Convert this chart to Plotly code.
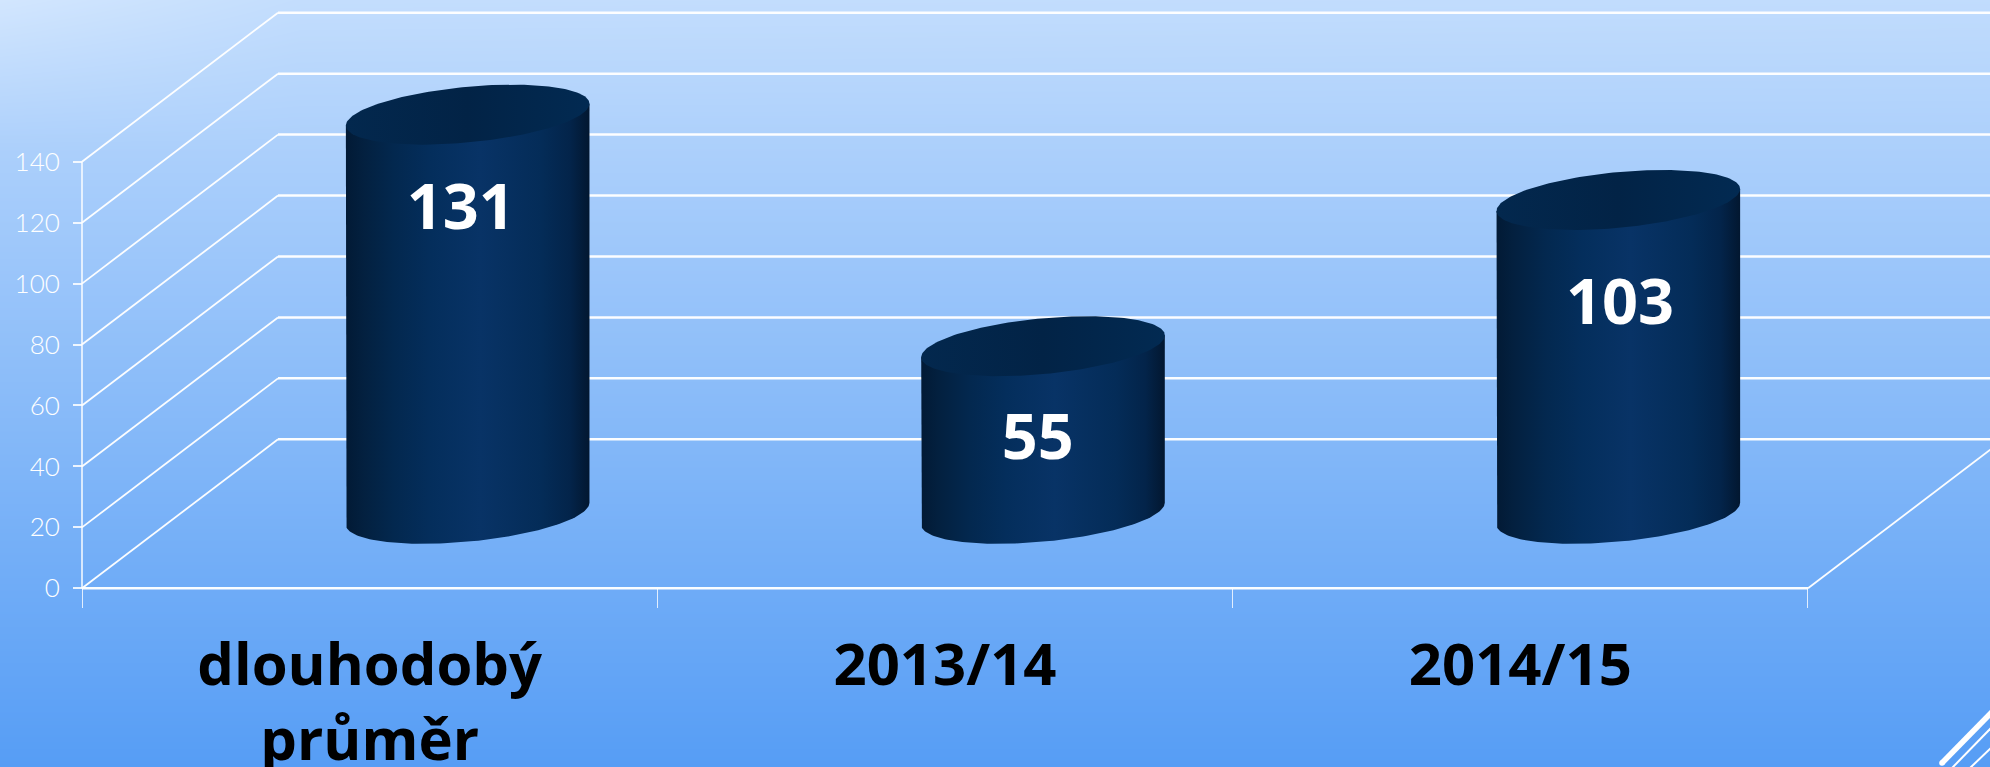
import numpy as np
import plotly.graph_objects as go

# ---- data ----
categories = ["dlouhodobý<br>průměr", "2013/14", "2014/15"]
values = [131, 55, 103]
y_ticks = [0, 20, 40, 60, 80, 100, 120, 140]
label_drop = [32.5, 32, 35.5]
label_shift = [-0.012, -0.009, 0.003]

# ---- page and axis scales ----
W, H = 1990, 767
PX_PER_CAT, PX_PER_UNIT = 575.33, 3.047
X0_PX, Y0_PX = 82, 588.3
x_range = [-X0_PX / PX_PER_CAT, (W - X0_PX) / PX_PER_CAT]
y_range = [-(H - Y0_PX) / PX_PER_UNIT, Y0_PX / PX_PER_UNIT]

# 3-D look: depth offset of the back wall, in axis units
DX, DY = 196 / PX_PER_CAT, 149 / PX_PER_UNIT
# ellipse of the cylinder in axis units
EA, EB, EC = 121.8 / PX_PER_CAT, 9.16, 3.6

GRID = "rgba(255,255,255,0.97)"
SIDE = [[0, "#021a35"], [0.07, "#03203f"], [0.2, "#03284f"], [0.35, "#042e5c"],
        [0.55, "#083366"], [0.8, "#042c58"], [0.92, "#03244a"], [1, "#021730"]]
CAP = [[0, "#03284e"], [0.5, "#022346"], [1, "#022a52"]]

fig = go.Figure()

# background gradient: vertical ramp with a lighter top-left corner
bg_x = [x_range[0], x_range[0] + 300 / PX_PER_CAT, x_range[1]]
bg_y = [y_range[0], y_range[1] - 150 / PX_PER_UNIT, y_range[1]]
bg_z = [[0.0, 0.0, 0.0], [0.69, 0.69, 0.69], [1.0, 0.88, 0.86]]
fig.add_trace(go.Heatmap(
    x=bg_x, y=bg_y, z=bg_z, zmin=0, zmax=1,
    zsmooth="best", showscale=False, hoverinfo="skip",
    colorscale=[[0, "#569df5"], [1, "#d2e6fe"]],
))


def line(x, y, width=2, color=GRID):
    fig.add_trace(go.Scatter(x=x, y=y, mode="lines", hoverinfo="skip",
                             line=dict(color=color, width=width, shape="linear")))


# walls
for v in y_ticks:
    line([0, DX], [v, v + DY], width=1.8)
    line([DX, 3 + DX], [v + DY, v + DY], width=2.5)
line([0, 0], [0, max(y_ticks)], width=1.7, color="rgba(255,255,255,0.85)")
line([0, 3], [0, 0], width=2.6)
line([3, 3 + DX], [0, DY], width=1.8)

# cylinders
t_low = np.linspace(np.pi, 2 * np.pi, 90)
t_all = np.linspace(0, 2 * np.pi, 180)
for i, v in enumerate(values):
    cx, cy = i + 0.5 + DX / 2, DY / 2
    xb = cx + EA * np.cos(t_low)
    yb = cy + EB * np.sin(t_low) + EC * np.cos(t_low)
    fig.add_trace(go.Scatter(
        x=np.r_[cx - EA, xb, cx + EA, cx - EA],
        y=np.r_[cy + v - EC, yb, cy + v + EC, cy + v - EC],
        mode="lines", line=dict(width=0), fill="toself",
        fillgradient=dict(type="horizontal", colorscale=SIDE), hoverinfo="skip"))
    fig.add_trace(go.Scatter(
        x=cx + EA * np.cos(t_all),
        y=cy + v + EB * np.sin(t_all) + EC * np.cos(t_all),
        mode="lines", line=dict(width=0), fill="toself",
        fillgradient=dict(type="horizontal", colorscale=CAP), hoverinfo="skip"))

# data labels
fig.add_trace(go.Scatter(
    x=[i + 0.5 + DX / 2 + s for i, s in enumerate(label_shift)],
    y=[v + DY / 2 - d for v, d in zip(values, label_drop)],
    text=[str(v) for v in values], mode="text", textposition="middle center",
    textfont=dict(family="Open Sans", size=63, color="white", weight="bold"),
    hoverinfo="skip"))


# corner decoration (page coordinates)
def px_line(x0, y0, x1, y1, w):
    return dict(type="line", xref="paper", yref="paper",
                x0=x0 / W, y0=1 - y0 / H, x1=x1 / W, y1=1 - y1 / H,
                line=dict(color="white", width=w))


shapes = [px_line(1942, 763, 1992, 712, 5.5), px_line(1952, 768, 1992, 727, 2),
          px_line(1970, 768, 1992, 747, 2),
          dict(type="circle", xref="paper", yref="paper", fillcolor="white",
               line=dict(width=0), x0=1939.2 / W, x1=1944.8 / W,
               y0=1 - 765.8 / H, y1=1 - 760.2 / H)]

fig.update_layout(
    width=W, height=H, margin=dict(l=0, r=0, t=0, b=0), showlegend=False,
    paper_bgcolor="#8fbef9", plot_bgcolor="rgba(0,0,0,0)", shapes=shapes,
    xaxis=dict(
        range=x_range, autorange=False, anchor="free", position=(H - Y0_PX) / H,
        automargin=False,
        showgrid=False, zeroline=False, showline=False,
        tickmode="array", tickvals=[0.5, 1.5, 2.5], ticktext=categories,
        ticks="outside", ticklen=0, ticklabelstandoff=26,
        tickfont=dict(family="Open Sans", size=58, color="black", weight="bold"),
        minor=dict(tickmode="array", tickvals=[0, 1, 2, 3], ticks="outside",
                   ticklen=19, tickwidth=1, tickcolor="rgba(255,255,255,0.8)"),
    ),
    yaxis=dict(
        range=y_range, autorange=False, anchor="free", position=X0_PX / W,
        automargin=False,
        showgrid=False, zeroline=False, showline=False,
        tickmode="array", tickvals=y_ticks, ticks="outside", ticklen=9, tickwidth=1.5,
        tickcolor="rgba(255,255,255,0.85)", ticklabelstandoff=8,
        tickfont=dict(family="Lato", size=26, color="white", weight=300),
    ),
)

fig.write_html("out.html", config=dict(displayModeBar=False),
               post_script="document.body.style.margin='0';document.body.style.overflow='hidden';")
